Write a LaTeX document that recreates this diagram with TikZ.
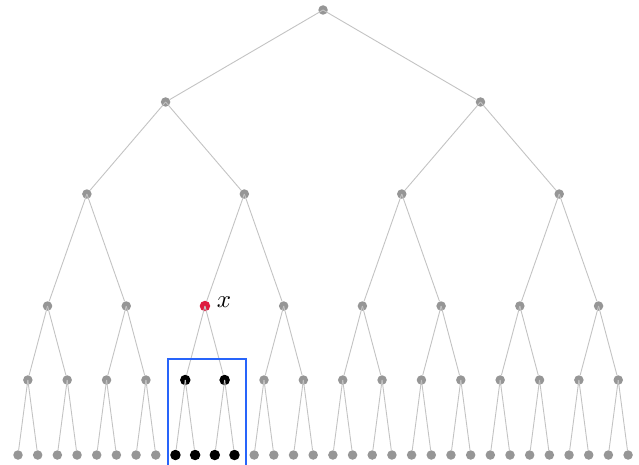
\documentclass[tikz,border=0pt]{standalone}
\usetikzlibrary{calc}
\definecolor{dotgrey}{RGB}{150,150,150}
\definecolor{edgegrey}{RGB}{195,195,195}
\definecolor{dotred}{RGB}{222,28,64}
\definecolor{boxblue}{RGB}{40,100,250}
\begin{document}
\begin{tikzpicture}[x=1pt,y=-1pt,
  dot/.style={circle,fill=dotgrey,inner sep=0pt,minimum size=9.5pt},
  blackdot/.style={circle,fill=black,inner sep=0pt,minimum size=10.5pt},
  reddot/.style={circle,fill=dotred,inner sep=0pt,minimum size=10.5pt},
  treeedge/.style={draw=edgegrey,line width=0.9pt},
  hlbox/.style={draw=boxblue,line width=1.8pt}]
\useasboundingbox (0,0) rectangle (639,465);
\foreach \L/\y in {0/10,1/102,2/194,3/306,4/380,5/455} {
  \pgfmathtruncatemacro\n{2^\L-1}
  \pgfmathtruncatemacro\w{2^(5-\L)}
  \foreach \k in {0,...,\n} {
    \pgfmathsetmacro\xx{18+19.68*(\k*\w+(\w-1)/2)}
    \def\sty{dot}
    \ifnum\L=4 \ifnum\k>3 \ifnum\k<6 \def\sty{blackdot}\fi\fi\fi
    \ifnum\L=5 \ifnum\k>7 \ifnum\k<12 \def\sty{blackdot}\fi\fi\fi
    \ifnum\L=3 \ifnum\k=2 \def\sty{reddot}\fi\fi
    \node[\sty] (n-\L-\k) at (\xx,\y) {};
  }
}
\foreach \L in {1,...,5} {
  \pgfmathtruncatemacro\n{2^\L-1}
  \pgfmathtruncatemacro\p{\L-1}
  \foreach \k in {0,...,\n} {
    \pgfmathtruncatemacro\q{floor(\k/2)}
    \draw[treeedge] (n-\p-\q.center) -- (n-\L-\k);
  }
}
\node[anchor=west,inner sep=0pt,scale=2.5] (xlab) at ($(n-3-2.east)+(6,-4)$) {$x$};
\coordinate (boxtl) at (168,359);
\coordinate (boxbr) at (246,472);
\draw[hlbox] (boxtl) rectangle (boxbr);
\end{tikzpicture}
\end{document}
